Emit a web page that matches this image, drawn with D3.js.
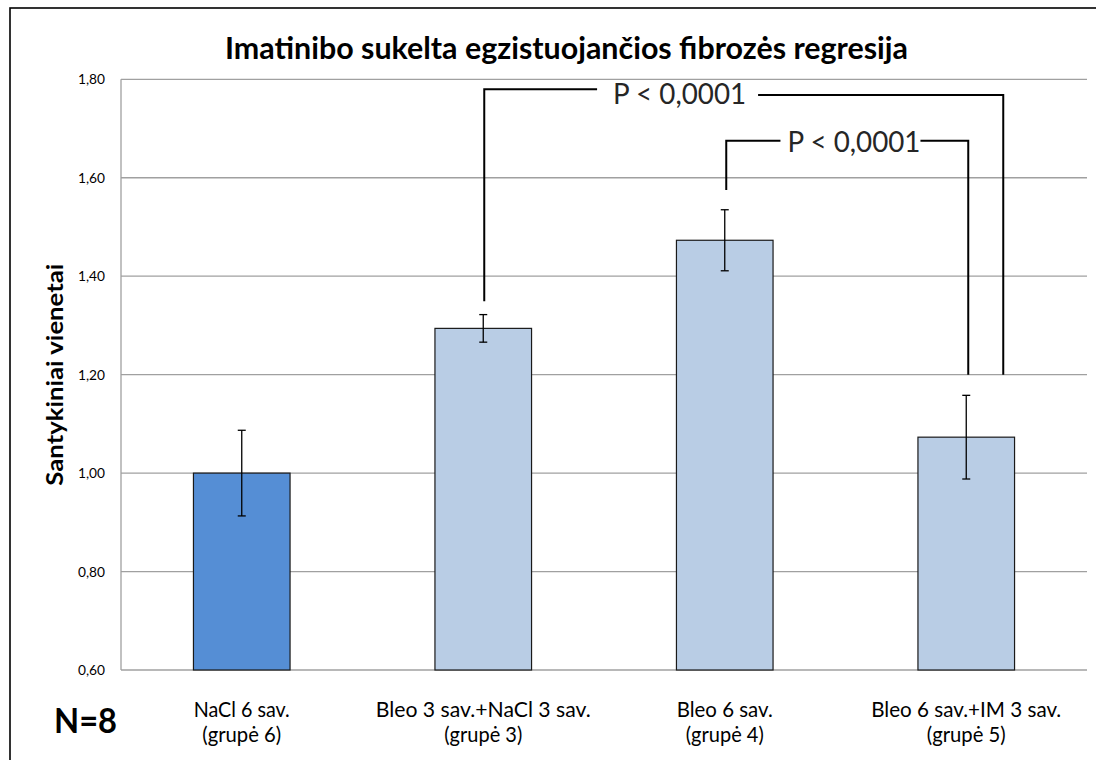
<!DOCTYPE html>
<html>
<head>
<meta charset="utf-8">
<script src="https://cdn.jsdelivr.net/npm/d3@7"></script>
<style>
  html, body { margin: 0; padding: 0; background: #ffffff; }
  svg { display: block; }
  text { font-family: Lato, "Open Sans", "Noto Sans", sans-serif; }
</style>
</head>
<body>
<script>
// Group labels (two lines each)
const groupLine1 = ["NaCl 6 sav.", "Bleo 3 sav.+NaCl 3 sav.", "Bleo 6 sav.", "Bleo 6 sav.+IM 3 sav."];
const groupLine2 = ["(grupė 6)", "(grupė 3)", "(grupė 4)", "(grupė 5)"];

// Relative units per group and their error bar half-ranges
const values = [1.00, 1.294, 1.473, 1.073];
const errors = [0.087, 0.028, 0.062, 0.085];

// Value axis ticks
const yTicks = [0.60, 0.80, 1.00, 1.20, 1.40, 1.60, 1.80];

// Significance brackets: group indices, levels of the horizontal bar and the feet
const bracketFrom = [1, 2];
const bracketTo = [3, 3];
const bracketTopLeft = [1.780, 1.675];
const bracketTopRight = [1.768, 1.675];
const bracketFootLeft = [1.349, 1.575];
const bracketFootRight = [1.200, 1.200];
const bracketLabels = ["P < 0,0001", "P < 0,0001"];

const W = 1096, H = 760;
const plot = { left: 121, right: 1087, top: 79.3, bottom: 670 };

const svg = d3.select("body").append("svg").attr("width", W).attr("height", H);

// Chart frame
svg.append("rect")
  .attr("x", 10).attr("y", 8).attr("width", 1120).attr("height", 800)
  .attr("fill", "#fff").attr("stroke", "#000").attr("stroke-width", 1.6);

const x = d3.scaleBand()
  .domain(d3.range(groupLine1.length))
  .range([plot.left, plot.right])
  .paddingInner(0.6).paddingOuter(0.3);

const y = d3.scaleLinear().domain([0.6, 1.8]).range([plot.bottom, plot.top]);

const fmt = v => d3.format(".2f")(v).replace(".", ",");

// Horizontal gridlines
svg.append("g").selectAll("line").data(yTicks).join("line")
  .attr("x1", plot.left).attr("x2", plot.right)
  .attr("y1", d => y(d)).attr("y2", d => y(d))
  .attr("stroke", "#a0a0a0").attr("stroke-width", 1.3);

// Value axis line
svg.append("line")
  .attr("x1", plot.left).attr("x2", plot.left)
  .attr("y1", y(1.8)).attr("y2", y(0.6))
  .attr("stroke", "#a0a0a0").attr("stroke-width", 1.3);

// Tick labels
svg.append("g").selectAll("text").data(yTicks).join("text")
  .attr("x", 105).attr("y", d => y(d) + 5)
  .attr("text-anchor", "end")
  .attr("font-size", 13.5).attr("fill", "#000")
  .attr("textLength", 27).attr("lengthAdjust", "spacingAndGlyphs")
  .text(fmt);

// Bars
svg.append("g").selectAll("rect").data(values).join("rect")
  .attr("x", (d, i) => x(i)).attr("width", x.bandwidth())
  .attr("y", d => y(d)).attr("height", d => y(0.6) - y(d))
  .attr("fill", (d, i) => i === 0 ? "#558ed5" : "#b9cde5")
  .attr("stroke", "#1a1a1a").attr("stroke-width", 1.2);

// Error bars
const eb = svg.append("g").attr("stroke", "#000").attr("stroke-width", 1.3);
values.forEach((v, i) => {
  const cx = x(i) + x.bandwidth() / 2;
  const hi = y(v + errors[i]), lo = y(v - errors[i]);
  eb.append("line").attr("x1", cx).attr("x2", cx).attr("y1", hi).attr("y2", lo);
  eb.append("line").attr("x1", cx - 4).attr("x2", cx + 4).attr("y1", hi).attr("y2", hi);
  eb.append("line").attr("x1", cx - 4).attr("x2", cx + 4).attr("y1", lo).attr("y2", lo);
});

// Significance brackets
const center = i => x(i) + x.bandwidth() / 2;
const rightLegShift = [37, 2];
const leftLegShift = [1, 1.5];
const labelAt = [0.4065, 0.535];
const gapLeft = [16, 7];
const gapRight = [12, 0];
const labelWidth = 133;
const br = svg.append("g");
bracketLabels.forEach((lab, k) => {
  const xl = center(bracketFrom[k]) + leftLegShift[k];
  const xr = center(bracketTo[k]) + rightLegShift[k];
  const cx = center(bracketFrom[k]) + labelAt[k] * (center(bracketTo[k]) - center(bracketFrom[k]));
  const yl = y(bracketTopLeft[k]), yr = y(bracketTopRight[k]);
  const tl = cx - labelWidth / 2, tr = cx + labelWidth / 2;
  br.append("path")
    .attr("d", `M${xl},${y(bracketFootLeft[k])}V${yl}H${tl - gapLeft[k]}`)
    .attr("fill", "none").attr("stroke", "#000").attr("stroke-width", 2);
  br.append("path")
    .attr("d", `M${tr + gapRight[k]},${yr}H${xr}V${y(bracketFootRight[k])}`)
    .attr("fill", "none").attr("stroke", "#000").attr("stroke-width", 2);
  br.append("text")
    .attr("x", cx).attr("y", (yl + yr) / 2 + 11.5)
    .attr("text-anchor", "middle")
    .attr("font-size", 29).attr("fill", "#262626")
    .attr("textLength", labelWidth).attr("lengthAdjust", "spacingAndGlyphs")
    .text(lab);
});

// Group labels below the bars
const line1Width = [96, 215, 96, 190];
const line2Width = [79, 78, 78, 79];
const xl = svg.append("g").attr("fill", "#000").attr("font-size", 21.5).attr("text-anchor", "middle");
groupLine1.forEach((t, i) => {
  xl.append("text").attr("x", center(i)).attr("y", 717)
    .attr("textLength", line1Width[i]).attr("lengthAdjust", "spacingAndGlyphs").text(t);
  xl.append("text").attr("x", center(i)).attr("y", 741.5)
    .attr("textLength", line2Width[i]).attr("lengthAdjust", "spacingAndGlyphs").text(groupLine2[i]);
});

// Title
svg.append("text")
  .attr("x", 566.5).attr("y", 59)
  .attr("text-anchor", "middle")
  .attr("font-size", 30).attr("font-weight", "bold").attr("fill", "#000")
  .attr("textLength", 683).attr("lengthAdjust", "spacingAndGlyphs")
  .text("Imatinibo sukelta egzistuojančios fibrozės regresija");

// Value axis title
svg.append("text")
  .attr("transform", `translate(63,${(plot.top + plot.bottom) / 2}) rotate(-90)`)
  .attr("text-anchor", "middle")
  .attr("font-size", 23).attr("font-weight", "bold").attr("fill", "#000")
  .attr("textLength", 222).attr("lengthAdjust", "spacingAndGlyphs")
  .text("Santykiniai vienetai");

// Sample size note
svg.append("text")
  .attr("x", 54).attr("y", 733)
  .attr("font-size", 35).attr("font-weight", "bold").attr("fill", "#000")
  .attr("textLength", 63).attr("lengthAdjust", "spacingAndGlyphs")
  .text("N=8");
</script>
</body>
</html>
